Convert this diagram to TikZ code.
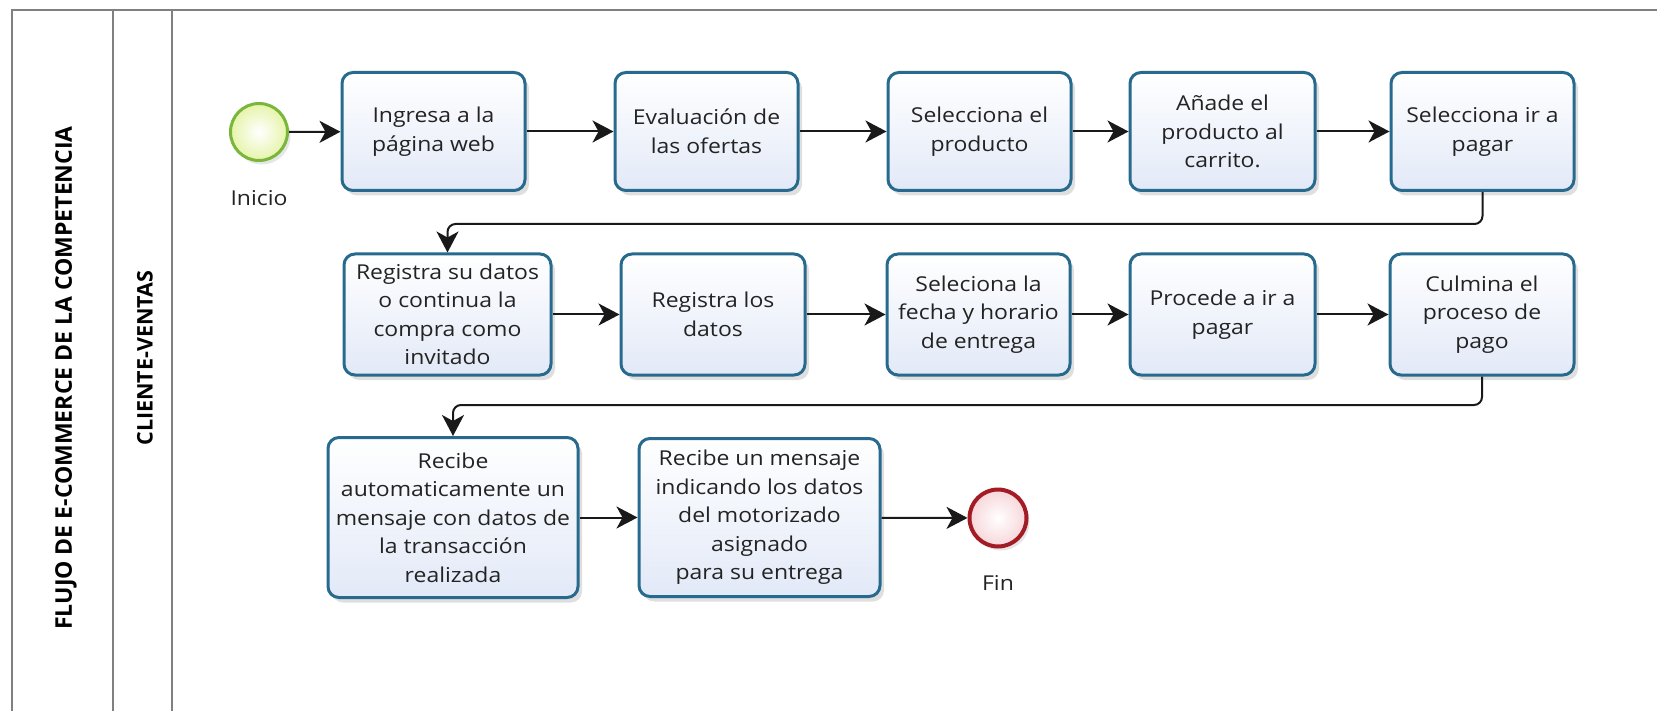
\documentclass[tikz,border=0pt]{standalone}
\usepackage{fontspec}
\setmainfont{Open Sans}
\newfontfamily\cajafont[FakeStretch=1.12]{Open Sans}
\usepackage{xcolor}
\usetikzlibrary{arrows.meta,shadows}
\definecolor{borde}{RGB}{40,106,142}
\definecolor{relleno}{RGB}{226,233,247}
\definecolor{linea}{RGB}{128,128,128}
\definecolor{texto}{RGB}{35,35,35}
\definecolor{verde}{RGB}{122,182,58}
\definecolor{rojo}{RGB}{163,27,36}
\begin{document}
\begin{tikzpicture}[x=1pt,y=-1pt,
	tarea/.style={draw=borde, line width=3pt, rounded corners=11pt, top color=white, bottom color=relleno, align=center, text=texto, font=\cajafont\fontsize{20.5}{28.5}\selectfont, drop shadow={shadow xshift=4pt, shadow yshift=-5pt, opacity=0.25, fill=gray}},
	evento/.style={circle, minimum size=57pt, drop shadow={shadow xshift=3pt, shadow yshift=-4pt, opacity=0.2, fill=gray}},
	flecha/.style={line width=2pt, draw=black!90, -{Stealth[length=21pt,width=22pt,inset=6pt]}},
	carril/.style={draw=linea, line width=2pt}]
	\useasboundingbox (0,0) rectangle (1657,711);
	\draw[carril] (12,711) -- (12,10) -- (1657,10);
	\draw[carril] (113,10) -- (113,711);
	\draw[carril] (172,10) -- (172,711);
	\node[rotate=90, font=\bfseries\fontsize{23}{23}\selectfont, text=black] (proceso) at (66,378) {FLUJO DE E-COMMERCE DE LA COMPETENCIA};
	\node[rotate=90, font=\bfseries\fontsize{21.5}{21.5}\selectfont, text=black] (carril) at (145,358) {CLIENTE-VENTAS};

	\node[evento, draw=verde, line width=3pt, inner color=white, outer color={rgb,255:red,230;green,244;blue,170}] (inicio) at (259,132) {};
	\node[text=texto, font=\cajafont\fontsize{20.5}{20.5}\selectfont] (inicioTxt) at (259,198) {Inicio};
	\node[tarea, minimum width=183pt, minimum height=118pt] (b1) at (433.5,131.5) {Ingresa a la\\página web};
	\node[tarea, minimum width=183pt, minimum height=118pt] (b2) at (706.5,131.5) {Evaluación de\\las ofertas};
	\node[tarea, minimum width=183pt, minimum height=118pt] (b3) at (979.5,131.5) {Selecciona el\\producto};
	\node[tarea, minimum width=185pt, minimum height=118pt] (b4) at (1222.5,131.5) {Añade el\\producto al\\carrito.};
	\node[tarea, minimum width=183pt, minimum height=118pt] (b5) at (1482.5,131.5) {Selecciona ir a\\pagar};

	\node[tarea, minimum width=207pt, minimum height=121pt] (c1) at (447.5,314.5) {Registra su datos\\o continua la\\compra como\\invitado};
	\node[tarea, minimum width=184pt, minimum height=121pt] (c2) at (713,314.5) {Registra los\\datos};
	\node[tarea, minimum width=183pt, minimum height=121pt] (c3) at (978.5,314.5) {Seleciona la\\fecha y horario\\de entrega};
	\node[tarea, minimum width=185pt, minimum height=121pt] (c4) at (1222.5,314.5) {Procede a ir a\\pagar};
	\node[tarea, minimum width=184pt, minimum height=121pt] (c5) at (1482,314.5) {Culmina el\\proceso de\\pago};

	\node[tarea, minimum width=250pt, minimum height=160pt] (d1) at (453,517.5) {Recibe\\automaticamente un\\mensaje con datos de\\la transacción\\realizada};
	\node[tarea, minimum width=241pt, minimum height=158pt] (d2) at (759.5,517.5) {Recibe un mensaje\\indicando los datos\\del motorizado\\asignado\\para su entrega};
	\node[evento, draw=rojo, line width=4pt, inner color=white, outer color={rgb,255:red,247;green,214;blue,218}] (fin) at (998,518) {};
	\node[text=texto, font=\cajafont\fontsize{20.5}{20.5}\selectfont] (finTxt) at (998,583) {Fin};

	\draw[flecha] (inicio) -- (b1);
	\draw[flecha] (b1) -- (b2);
	\draw[flecha] (b2) -- (b3);
	\draw[flecha] (b3) -- (b4);
	\draw[flecha] (b4) -- (b5);
	\draw[flecha, rounded corners=8pt] (b5.south) |- (800,224) -| (c1.north);
	\draw[flecha] (c1) -- (c2);
	\draw[flecha] (c2) -- (c3);
	\draw[flecha] (c3) -- (c4);
	\draw[flecha] (c4) -- (c5);
	\draw[flecha, rounded corners=8pt] (c5.south) |- (800,405) -| (d1.north);
	\draw[flecha] (d1) -- (d2);
	\draw[flecha] (d2) -- (fin);
\end{tikzpicture}
\end{document}
